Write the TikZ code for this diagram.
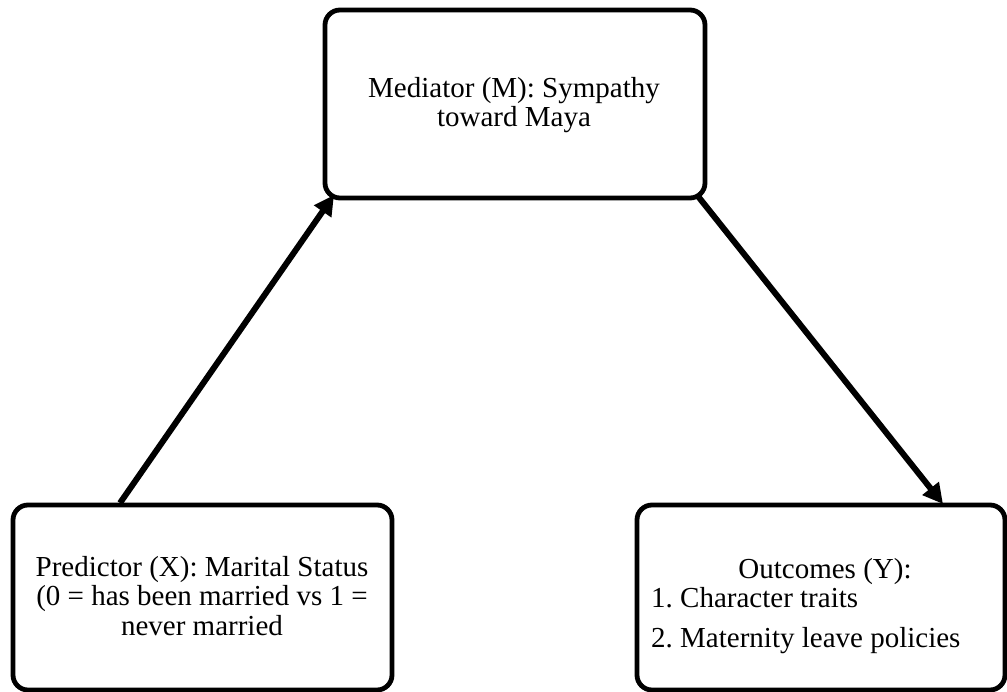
\documentclass[tikz,border=0pt]{standalone}
\usepackage{fontspec}
\setmainfont{Liberation Serif}
\usetikzlibrary{arrows.meta}
\frenchspacing
\begin{document}
\begin{tikzpicture}[x=1pt,y=-1pt,
  box/.style={draw=black, line width=4.8pt, rounded corners=15pt, fill=white, inner sep=0pt},
  lbl/.style={font=\fontsize{29}{29.5}\selectfont, align=center, inner sep=0pt},
  txt/.style={font=\fontsize{29}{29.5}\selectfont, inner sep=0pt},
  conn/.style={line width=6pt, -{Triangle[length=20pt,width=20pt]}}]
\useasboundingbox (0,0) rectangle (1007,692);
% boxes
\node[box, minimum width=380pt, minimum height=188pt] (M) at (515,104) {};
\node[box, minimum width=379pt, minimum height=185pt] (X) at (202.5,597.5) {};
\node[box, minimum width=368pt, minimum height=185pt] (Y) at (821,597.5) {};
% texts
\node[lbl] (Mt) at (514,105) {Mediator (M): Sympathy\\toward Maya};
\node[lbl] (Xt) at (202,596) {Predictor (X): Marital Status\\(0 = has been married vs 1 =\\never married};
\node[txt, anchor=base] (Yt) at (825,578) {Outcomes (Y):};
\node[txt, anchor=base west] (Y1) at (651,607) {1. Character traits};
\node[txt, anchor=base west] (Y2) at (651,647) {2. Maternity leave policies};
% connector end points
\coordinate (xs) at (120,503);
\coordinate (mt) at (334,195);
\coordinate (ms) at (697,195);
\coordinate (yt) at (943,504);
\draw[conn] (xs) -- (mt);
\draw[conn] (ms) -- (yt);
\end{tikzpicture}
\end{document}
